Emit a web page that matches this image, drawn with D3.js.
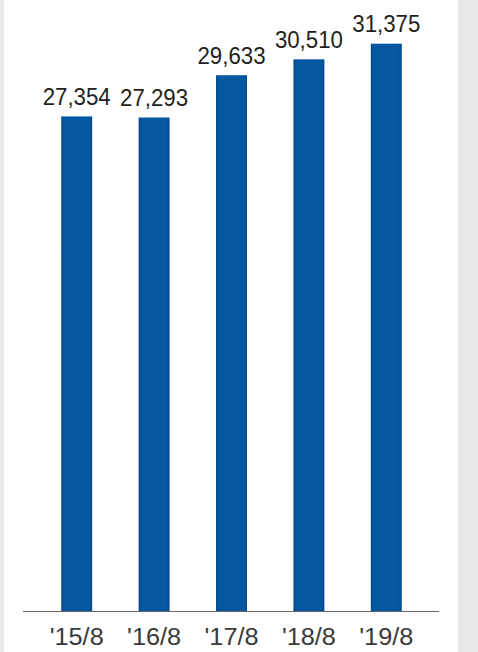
<!DOCTYPE html>
<html><head><meta charset="utf-8">
<script src="https://cdn.jsdelivr.net/npm/d3@7"></script>
<style>html,body{margin:0;padding:0;background:#e8e8e8;}svg{display:block;}</style>
</head><body>
<script>
const categories = ["'15/8", "'16/8", "'17/8", "'18/8", "'19/8"];
const values = [27354, 27293, 29633, 30510, 31375];

const W = 478, H = 652;
const svg = d3.select("body").append("svg").attr("width", W).attr("height", H);
svg.append("rect").attr("x", 0).attr("y", 0).attr("width", W).attr("height", H).attr("fill", "#e8e8e8");
svg.append("rect").attr("x", 4).attr("y", 0).attr("width", 454).attr("height", H).attr("fill", "#ffffff");

const defs = svg.append("defs");
const g = defs.append("linearGradient").attr("id", "bg").attr("x1", "0").attr("x2", "1").attr("y1", "0").attr("y2", "0");
g.append("stop").attr("offset", "0").attr("stop-color", "#034b8c");
g.append("stop").attr("offset", "0.12").attr("stop-color", "#0458a1");
g.append("stop").attr("offset", "0.88").attr("stop-color", "#0458a1");
g.append("stop").attr("offset", "1").attr("stop-color", "#034b8c");

const x = d3.scaleBand().domain(categories).range([38, 425]).paddingInner(0.6).paddingOuter(0.3);
const y = d3.scaleLinear().domain([0, 31375]).range([611, 43.7]);

svg.selectAll("rect.bar").data(values).join("rect").attr("class", "bar")
  .attr("x", (d, i) => x(categories[i]))
  .attr("width", x.bandwidth())
  .attr("y", d => y(d))
  .attr("height", d => y(0) - y(d))
  .attr("fill", "url(#bg)");

svg.append("line").attr("x1", 23).attr("x2", 439).attr("y1", 611.5).attr("y2", 611.5)
  .attr("stroke", "#666").attr("stroke-width", 1);

svg.selectAll("text.val").data(values).join("text").attr("class", "val")
  .attr("x", (d, i) => x(categories[i]) + x.bandwidth() / 2)
  .attr("y", d => y(d) - 11.5)
  .attr("text-anchor", "middle")
  .attr("font-family", "Liberation Sans, Arial, sans-serif")
  .attr("font-size", 24)
  .attr("fill", "#231f20")
  .attr("textLength", 68).attr("lengthAdjust", "spacingAndGlyphs")
  .text(d => d3.format(",")(d));

svg.selectAll("text.cat").data(categories).join("text").attr("class", "cat")
  .attr("x", d => x(d) + x.bandwidth() / 2)
  .attr("y", 645)
  .attr("text-anchor", "middle")
  .attr("font-family", "Liberation Sans, Arial, sans-serif")
  .attr("font-size", 23)
  .attr("fill", "#3a3a3a")
  .attr("textLength", 54).attr("lengthAdjust", "spacingAndGlyphs")
  .text(d => d);
</script>
</body></html>
